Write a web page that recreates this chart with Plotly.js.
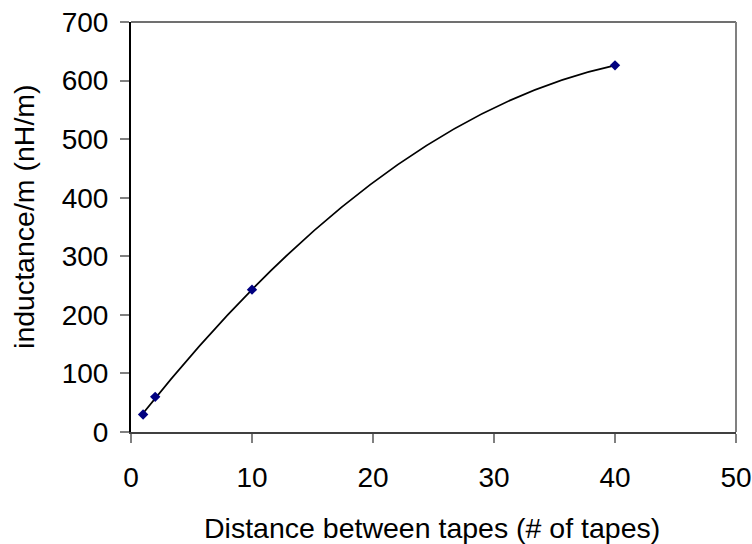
<!DOCTYPE html>
<html>
<head>
<script src="https://cdn.plot.ly/plotly-3.0.1.min.js"></script>
<style>html,body{margin:0;padding:0;background:#fff;}#chart{width:752px;height:544px;}</style>
</head>
<body>
<div id="chart"></div>
<script>
const distance = [1, 2, 10, 40];
const inductance = [30, 60, 243, 626];
const xTicks = [0, 10, 20, 30, 40, 50];
const yTicks = [0, 100, 200, 300, 400, 500, 600, 700];
const xTitle = 'Distance between tapes (# of tapes)';
const yTitle = 'inductance/m (nH/m)';

// Quadratic (order 2) least-squares trendline, as in the source chart
function polyFit2(xs, ys) {
  let S = [0, 0, 0, 0, 0], T = [0, 0, 0];
  for (let i = 0; i < xs.length; i++) {
    let p = 1;
    for (let k = 0; k < 5; k++) { S[k] += p; if (k < 3) T[k] += p * ys[i]; p *= xs[i]; }
  }
  const A = [[S[0], S[1], S[2], T[0]], [S[1], S[2], S[3], T[1]], [S[2], S[3], S[4], T[2]]];
  for (let c = 0; c < 3; c++) {
    for (let r = c + 1; r < 3; r++) {
      const f = A[r][c] / A[c][c];
      for (let k = c; k < 4; k++) A[r][k] -= f * A[c][k];
    }
  }
  const sol = [0, 0, 0];
  for (let r = 2; r >= 0; r--) {
    let s = A[r][3];
    for (let k = r + 1; k < 3; k++) s -= A[r][k] * sol[k];
    sol[r] = s / A[r][r];
  }
  return sol; // a, b, c
}
const [a, b, c] = polyFit2(distance, inductance);
const fx = x => a + b * x + c * x * x;
const x0 = Math.min(...distance), x1 = Math.max(...distance);
const xc = (x0 + x1) / 2;
const yc = fx(x0) + (b + 2 * c * x0) * (x1 - x0) / 2; // exact quadratic Bezier control point
const trendPath = `M ${x0},${fx(x0)} Q ${xc},${yc} ${x1},${fx(x1)}`;

const font = 'Liberation Sans, Arial, sans-serif';
const tickSize = 28, titleSize = 28.5;
const trace = {
  x: distance, y: inductance, type: 'scatter', mode: 'markers',
  marker: {symbol: 'diamond', color: '#000080', size: 8, line: {width: 0}},
  cliponaxis: false, hoverinfo: 'skip'
};
const layout = {
  width: 752, height: 544,
  margin: {l: 131, r: 16, t: 22, b: 112},
  paper_bgcolor: '#ffffff', plot_bgcolor: '#ffffff',
  showlegend: false,
  font: {family: font, size: tickSize, color: '#000000'},
  xaxis: {
    range: [0, 50], tickvals: xTicks, ticktext: xTicks.map(String),
    showgrid: false, zeroline: false, showline: true, linecolor: '#404040', linewidth: 2,
    ticks: 'outside', ticklen: 9, tickcolor: '#808080', tickwidth: 2,
    ticklabelstandoff: 10,
    tickfont: {family: font, size: tickSize, color: '#000'}
  },
  yaxis: {
    range: [0, 700], tickvals: yTicks, ticktext: yTicks.map(String),
    showgrid: false, zeroline: false, showline: true, linecolor: '#000000', linewidth: 2,
    ticks: 'outside', ticklen: 9, tickcolor: '#808080', tickwidth: 2,
    ticklabelstandoff: 6,
    tickfont: {family: font, size: tickSize, color: '#000'}
  },
  shapes: [
    {type: 'line', xref: 'paper', yref: 'paper', x0: 0, x1: 1, y0: 1, y1: 1, line: {color: '#404040', width: 1.5}},
    {type: 'line', xref: 'paper', yref: 'paper', x0: 1, x1: 1, y0: 0, y1: 1, line: {color: '#808080', width: 2}},
    {type: 'path', xref: 'x', yref: 'y', path: trendPath, layer: 'below', line: {color: '#000000', width: 1.8}}
  ],
  annotations: [
    {text: xTitle, xref: 'paper', yref: 'paper', x: (432 - 131) / 605, y: -0.234, xanchor: 'center', yanchor: 'middle',
     showarrow: false, font: {family: font, size: titleSize, color: '#000'}},
    {text: yTitle, xref: 'paper', yref: 'paper', x: -0.178, y: 0.5253, xanchor: 'center', yanchor: 'middle',
     textangle: -90, showarrow: false, font: {family: font, size: titleSize, color: '#000'}}
  ]
};
Plotly.newPlot('chart', [trace], layout, {staticPlot: true, displayModeBar: false});
</script>
</body>
</html>
